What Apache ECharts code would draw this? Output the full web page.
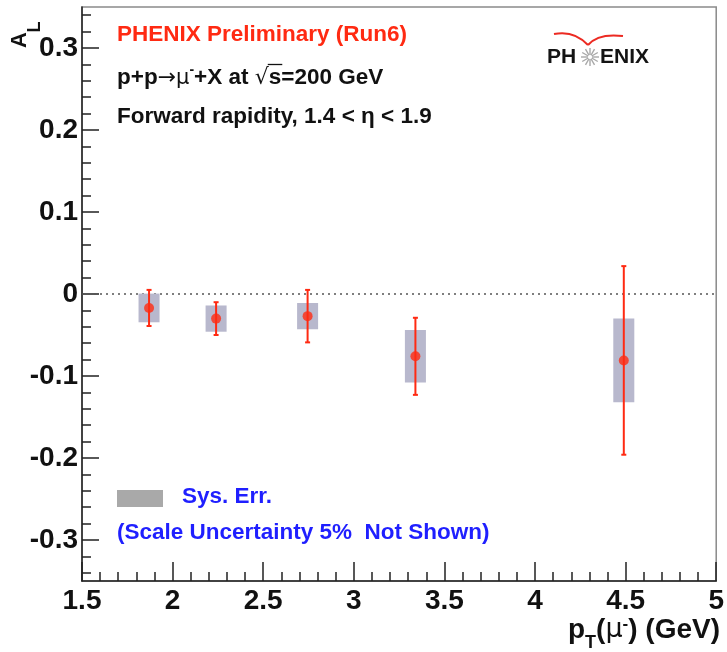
<!DOCTYPE html>
<html><head><meta charset="utf-8">
<script src="https://cdn.jsdelivr.net/npm/echarts@6/dist/echarts.min.js"></script>
<style>html,body{margin:0;padding:0;background:#fff}#c{width:727px;height:652px}</style>
</head><body><div id="c"></div>
<script>
// ---- data ----
const ptValues   = [1.87, 2.24, 2.745, 3.34, 4.49];      // pT (GeV)
const alValues   = [-0.017, -0.030, -0.027, -0.076, -0.081]; // A_L
const statErrors = [0.022, 0.020, 0.032, 0.047, 0.115];
const sysErrors  = [0.0175, 0.016, 0.016, 0.032, 0.051];
const xTickValues = [1.5, 2, 2.5, 3, 3.5, 4, 4.5, 5];
const yTickValues = [-0.3, -0.2, -0.1, 0, 0.1, 0.2, 0.3];

const SYS_HALF_WIDTH = 0.058;
const FONT = '"Liberation Sans", Arial, Helvetica, sans-serif';
const RED = '#ff2a12';
const BLUE = '#1f1fff';
const TXT = 22.5;

const chart = echarts.init(document.getElementById('c'), null, {renderer: 'canvas'});

const sysData = ptValues.map((x, i) => [x, alValues[i], sysErrors[i]]);
const statData = ptValues.map((x, i) => [x, alValues[i], statErrors[i]]);
const pointData = ptValues.map((x, i) => [x, alValues[i]]);

const starRays = [];
for (let k = 0; k < 12; k++) {
  const a = k * Math.PI / 6;
  starRays.push({type: 'line', shape: {x1: 590 + 2 * Math.cos(a), y1: 57 + 2 * Math.sin(a), x2: 590 + 9 * Math.cos(a), y2: 57 + 9 * Math.sin(a)}, style: {stroke: '#a8a8a8', lineWidth: 1.4}});
}

// measure text to place the overline of the square root
const mctx = document.createElement('canvas').getContext('2d');
function tw(font, s) { mctx.font = font; return mctx.measureText(s).width; }
const fB = 'bold ' + TXT + 'px ' + FONT;
const fAr = 'normal 22px "DejaVu Sans"';
const fMu = 'normal 21px "DejaVu Sans"';
const fS = 'bold 14px ' + FONT;
const sqrtStart = 117 + tw(fB, 'p+p') + tw(fAr, '→') + tw(fMu, 'μ') + tw(fS, '-') + tw(fB, '+X at ');
const sqrtW = tw(fAr, '√');
const sW = tw(fB, 's');

const option = {
  backgroundColor: '#fff',
  animation: false,
  grid: {left: 82, right: 8, top: 7, bottom: 71, show: true, borderColor: '#8a8a8a', borderWidth: 1.5, backgroundColor: 'transparent'},
  xAxis: {
    type: 'value', min: 1.5, max: 5, interval: 0.5,
    axisLine: {show: true, onZero: false, lineStyle: {color: '#222', width: 1.5}},
    axisTick: {show: true, inside: true, length: 19, lineStyle: {color: '#222', width: 1.5}},
    minorTick: {show: true, splitNumber: 5, length: 9, lineStyle: {color: '#222', width: 1.5}},
    splitLine: {show: false},
    axisLabel: {customValues: xTickValues, margin: 6, color: '#111', fontSize: 28, fontWeight: 'bold', fontFamily: FONT,
      formatter: v => String(v)}
  },
  yAxis: {
    type: 'value', min: -0.35, max: 0.35, splitNumber: 7,
    axisLine: {show: true, onZero: false, lineStyle: {color: '#222', width: 1.5}},
    axisTick: {show: true, inside: true, length: 17, customValues: yTickValues, lineStyle: {color: '#222', width: 1.5}},
    minorTick: {show: true, splitNumber: 5, length: 9, lineStyle: {color: '#222', width: 1.5}},
    splitLine: {show: false},
    axisLabel: {customValues: yTickValues, margin: 4, color: '#111', fontSize: 28, fontWeight: 'bold', fontFamily: FONT,
      formatter: v => String(Math.round(v * 10) / 10)}
  },
  series: [
    {
      name: 'sys', type: 'custom', z: 2, data: sysData,
      renderItem: function (params, api) {
        const x = api.value(0), y = api.value(1), e = api.value(2);
        const p1 = api.coord([x - SYS_HALF_WIDTH, y + e]);
        const p2 = api.coord([x + SYS_HALF_WIDTH, y - e]);
        return {type: 'rect', shape: {x: p1[0], y: p1[1], width: p2[0] - p1[0], height: p2[1] - p1[1]}, style: {fill: '#b8b8cd'}};
      }
    },
    {
      name: 'stat', type: 'custom', z: 3, data: statData,
      renderItem: function (params, api) {
        const x = api.value(0), y = api.value(1), e = api.value(2);
        const t = api.coord([x, y + e]);
        const b = api.coord([x, y - e]);
        const st = {stroke: RED, lineWidth: 2};
        return {type: 'group', children: [
          {type: 'line', shape: {x1: t[0], y1: t[1], x2: b[0], y2: b[1]}, style: st},
          {type: 'line', shape: {x1: t[0] - 2.5, y1: t[1], x2: t[0] + 2.5, y2: t[1]}, style: st},
          {type: 'line', shape: {x1: b[0] - 2.5, y1: b[1], x2: b[0] + 2.5, y2: b[1]}, style: st}
        ]};
      }
    },
    {
      name: 'AL', type: 'scatter', z: 4, data: pointData, symbol: 'circle', symbolSize: 10,
      itemStyle: {color: RED},
      markLine: {
        silent: true, symbol: 'none', z: 1, label: {show: false},
        lineStyle: {type: [2, 4], color: '#555', width: 1.6},
        data: [{yAxis: 0}]
      }
    }
  ],
  graphic: [
    // y-axis title A_L (rotated)
    {type: 'text', x: 20, y: 40, rotation: Math.PI / 2, style: {text: 'A', font: 'bold 22px ' + FONT, fill: '#111', align: 'center', verticalAlign: 'middle'}},
    {type: 'text', x: 35, y: 27, rotation: Math.PI / 2, style: {text: 'L', font: 'bold 18px ' + FONT, fill: '#111', align: 'center', verticalAlign: 'middle'}},
    // x-axis title
    {type: 'text', x: 720, y: 634, style: {
      text: '{t|p}{sub|T}{t|(}{mu|μ}{sup|-}{t|) (GeV)}', align: 'right', verticalAlign: 'middle',
      rich: {
        t: {fontSize: 28, fontWeight: 'bold', fontFamily: FONT, fill: '#111', lineHeight: 36, verticalAlign: 'top'},
        mu: {fontSize: 27, fontWeight: 'normal', fontFamily: '"DejaVu Sans"', fill: '#111', lineHeight: 36, verticalAlign: 'top'},
        sub: {fontSize: 18, fontWeight: 'bold', fontFamily: FONT, fill: '#111', lineHeight: 18, verticalAlign: 'bottom'},
        sup: {fontSize: 17, fontWeight: 'bold', fontFamily: FONT, fill: '#111', lineHeight: 17, verticalAlign: 'top'}
      }
    }},
    // annotations
    {type: 'text', x: 117, y: 35, style: {text: 'PHENIX Preliminary (Run6)', font: fB, fill: RED, align: 'left', verticalAlign: 'middle'}},
    {type: 'text', x: 117, y: 76, style: {
      text: '{t|p+p}{ar|→}{mu|μ}{s|-}{t|+X at }{ar|√}{t|s=200 GeV}', align: 'left', verticalAlign: 'middle',
      rich: {
        t: {fontSize: TXT, fontWeight: 'bold', fontFamily: FONT, fill: '#111', lineHeight: 26, verticalAlign: 'bottom'},
        ar: {fontSize: 22, fontWeight: 'normal', fontFamily: '"DejaVu Sans"', fill: '#111', lineHeight: 26, verticalAlign: 'bottom'},
        mu: {fontSize: 21, fontWeight: 'normal', fontFamily: '"DejaVu Sans"', fill: '#111', lineHeight: 26, verticalAlign: 'bottom'},
        s: {fontSize: 14, fontWeight: 'bold', fontFamily: FONT, fill: '#111', lineHeight: 14, verticalAlign: 'top'}
      }
    }},
    {type: 'line', shape: {x1: sqrtStart + sqrtW - 1, y1: 64.5, x2: sqrtStart + sqrtW + sW + 1, y2: 64.5}, style: {stroke: '#111', lineWidth: 1.3}},
    {type: 'text', x: 117, y: 117, style: {text: 'Forward rapidity, 1.4 < η < 1.9', font: fB, fill: '#111', align: 'left', verticalAlign: 'middle'}},
    // legend
    {type: 'rect', shape: {x: 117, y: 490, width: 46, height: 17}, style: {fill: '#a9a9a9'}},
    {type: 'text', x: 182, y: 497, style: {text: 'Sys. Err.', font: fB, fill: BLUE, align: 'left', verticalAlign: 'middle'}},
    {type: 'text', x: 117, y: 533, style: {text: '(Scale Uncertainty 5%  Not Shown)', font: fB, fill: BLUE, align: 'left', verticalAlign: 'middle'}},
    // PHENIX logo
    {type: 'bezierCurve', shape: {x1: 554, y1: 34, cpx1: 574, cpy1: 30, x2: 588, y2: 45}, style: {stroke: '#ec2a22', lineWidth: 2, fill: null}},
    {type: 'bezierCurve', shape: {x1: 588, y1: 45, cpx1: 598, cpy1: 33, x2: 623, y2: 36}, style: {stroke: '#ec2a22', lineWidth: 2, fill: null}},
    {type: 'text', x: 547, y: 57, style: {text: 'PH', font: 'bold 21px ' + FONT, fill: '#141414', align: 'left', verticalAlign: 'middle'}},
    {type: 'text', x: 600, y: 57, style: {text: 'ENIX', font: 'bold 21px ' + FONT, fill: '#141414', align: 'left', verticalAlign: 'middle'}},
    {type: 'group', children: starRays}
  ]
};
chart.setOption(option);
</script>
</body></html>
